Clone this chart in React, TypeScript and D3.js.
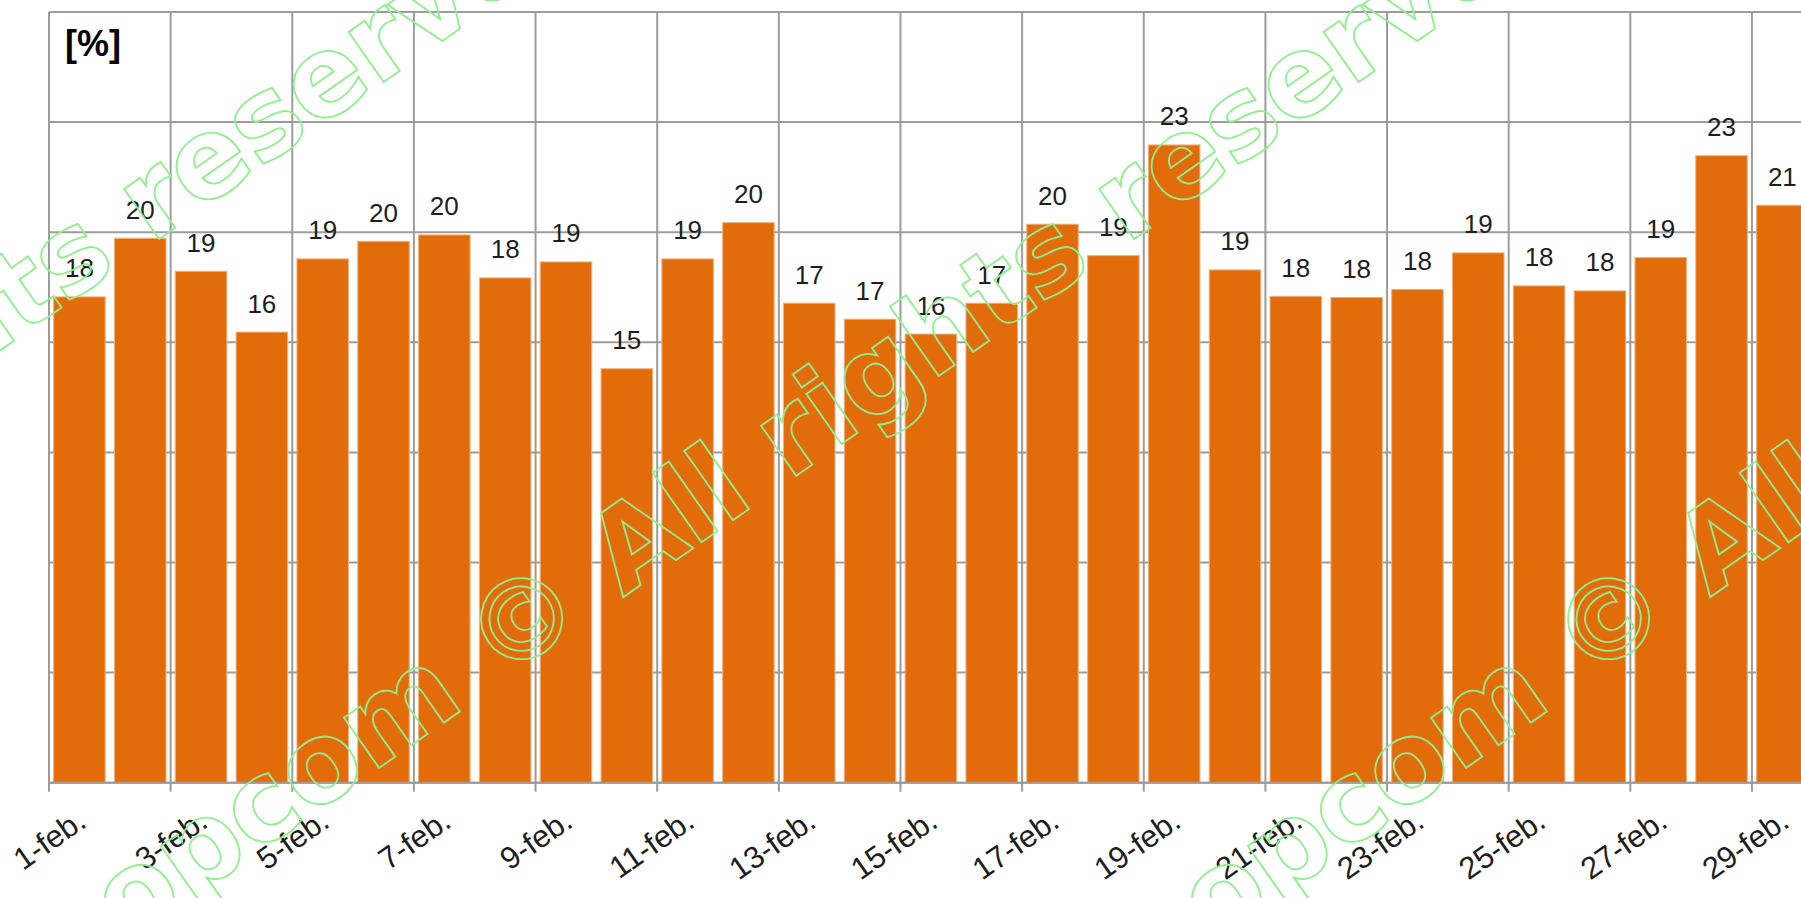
import React from "react";
import * as d3 from "d3";

// ---- data ----
const days: string[] = d3.range(1, 30).map((d) => `${d}-feb.`);
const shares: number[] = [
  17.65, 19.78, 18.58, 16.37, 19.03, 19.67, 19.9, 18.34, 18.92, 15.04,
  19.03, 20.35, 17.42, 16.84, 16.3, 17.42, 20.29, 19.15, 23.17, 18.63,
  17.67, 17.63, 17.92, 19.25, 18.05, 17.87, 19.08, 22.78, 20.98,
];
const yTicks: number[] = [0, 4, 8, 12, 16, 20, 24, 28];
const tickDays: string[] = days.filter((_, i) => i % 2 === 0);
const unitLabel = "[%]";
const watermarkPre = "opcom";
const watermarkPost = "© All rights reserved";
const watermarkOrigins: [number, number][] = [
  [-476, 684],
  [499, 684],
  [1586, 684],
];

// ---- layout ----
const W = 1801;
const H = 898;
const left = 49;
const top = 12;
const bottom = 782.7;
const step = 60.82;
const right = left + step * days.length;

const BAR = "#e36c0a";
const GRID = "#9c9c9c";
const WM = "#90ee90";

export default function App() {
  const x = d3
    .scaleBand<string>()
    .domain(days)
    .range([left, right])
    .paddingInner(0.153)
    .paddingOuter(0.0765);
  const y = d3.scaleLinear().domain([0, 28]).range([bottom, top]);
  const gap = (x.step() * x.paddingInner()) / 2;
  const bandStart = (d: string) => (x(d) as number) - gap;
  const fmt = d3.format(".0f");

  return (
    <div
      style={{
        position: "fixed",
        left: 0,
        top: 0,
        width: W,
        height: H,
        overflow: "hidden",
        background: "#fff",
      }}
    >
      <svg width={W} height={H} style={{ display: "block" }}>
        <rect x={0} y={0} width={W} height={H} fill="#fff" />
        {/* horizontal grid */}
        {yTicks.map((t) => (
          <line
            key={"h" + t}
            x1={left}
            x2={W + 20}
            y1={y(t)}
            y2={y(t)}
            stroke={GRID}
            strokeWidth={2}
          />
        ))}
        {/* vertical grid */}
        {tickDays.map((d) => (
          <line
            key={"v" + d}
            x1={bandStart(d)}
            x2={bandStart(d)}
            y1={top}
            y2={bottom + 9}
            stroke={GRID}
            strokeWidth={2}
          />
        ))}
        {/* bars */}
        {days.map((d, i) => (
          <rect
            key={"b" + d}
            x={x(d)}
            y={y(shares[i])}
            width={x.bandwidth()}
            height={bottom - y(shares[i])}
            fill={BAR}
            stroke="#f1b07c"
            strokeWidth={1}
          />
        ))}
        {/* axes */}
        <line x1={left} x2={left} y1={top} y2={bottom} stroke={GRID} strokeWidth={2} />
        <line x1={left} x2={W + 20} y1={bottom} y2={bottom} stroke={GRID} strokeWidth={2} />
        {/* value labels */}
        {days.map((d, i) => (
          <text
            key={"l" + d}
            x={(x(d) as number) + x.bandwidth() / 2}
            y={y(shares[i]) - 19.5}
            textAnchor="middle"
            fontFamily="'Liberation Sans', Arial, sans-serif"
            fontSize={26}
            fill="#1e1e1e"
          >
            {fmt(shares[i])}
          </text>
        ))}
        {/* x tick labels */}
        {tickDays.map((d) => {
          const tx = bandStart(d) + 39;
          const ty = 825.5;
          return (
            <text
              key={"t" + d}
              x={tx}
              y={ty}
              transform={`rotate(-35 ${tx} ${ty})`}
              textAnchor="end"
              fontFamily="'Liberation Sans', Arial, sans-serif"
              fontSize={31}
              fill="#1e1e1e"
            >
              {d}
            </text>
          );
        })}
        {/* unit */}
        <text
          x={65}
          y={56}
          fontFamily="'Liberation Sans', Arial, sans-serif"
          fontWeight="bold"
          fontSize={36}
          fill="#000"
        >
          {unitLabel}
        </text>
        {/* watermark */}
        {watermarkOrigins.map(([ox, oy], i) => (
          <g key={"wm" + i} transform={`translate(${ox},${oy}) rotate(-35)`}>
            <text
              x={-39}
              y={0}
              textAnchor="end"
              fontFamily="'DejaVu Sans', Verdana, sans-serif"
              fontWeight="bold"
              fontSize={112}
              fill="none"
              stroke={WM}
              strokeWidth={1.8}
            >
              {watermarkPre}
            </text>
            <text
              x={0}
              y={0}
              fontFamily="'DejaVu Sans', Verdana, sans-serif"
              fontWeight="bold"
              fontSize={112}
              fill="none"
              stroke={WM}
              strokeWidth={1.8}
            >
              {watermarkPost}
            </text>
          </g>
        ))}
      </svg>
    </div>
  );
}
